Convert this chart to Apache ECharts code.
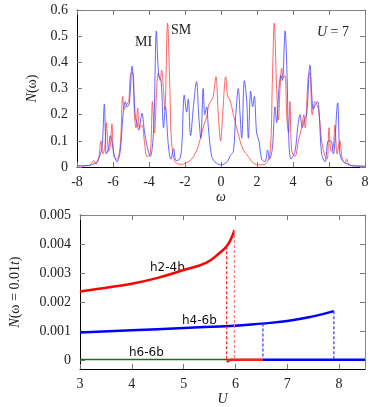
<!DOCTYPE html>
<html>
<head>
<meta charset="utf-8">
<script src="https://cdn.jsdelivr.net/npm/echarts@6/dist/echarts.min.js"></script>
<style>
    html, body { margin: 0; padding: 0; background: #fff; }
    #chart { width: 374px; height: 407px; }
</style>
</head>
<body>
<div id="chart"></div>
<script type="text/javascript">
    // top panel: density of states N(omega) at U = 7, [omega, N]
    var dosMI = [
        [-8,0.004],[-7.5,0.005],[-7.2,0.008],[-7.0,0.015],[-6.89,0.02],[-6.7,0.05],[-6.6,0.08],
        [-6.48,0.24],[-6.42,0.12],[-6.37,0.05],[-6.25,0.07],[-6.15,0.12],[-6.06,0.1],[-5.95,0.05],
        [-5.78,0.02],[-5.6,0.06],[-5.44,0.2],[-5.31,0.25],[-5.22,0.23],[-5.1,0.24],[-4.94,0.385],
        [-4.85,0.3],[-4.76,0.19],[-4.67,0.17],[-4.57,0.14],[-4.39,0.205],[-4.26,0.14],[-4.11,0.08],
        [-3.93,0.04],[-3.74,0.15],[-3.59,0.52],[-3.46,0.35],[-3.33,0.33],[-3.19,0.15],[-3.09,0.23],
        [-2.92,0.08],[-2.78,0.03],[-2.63,0.07],[-2.5,0.025],[-2.3,0.03],[-2.18,0.08],[-2.04,0.275],
        [-1.91,0.21],[-1.82,0.26],[-1.69,0.12],[-1.54,0.225],[-1.36,0.326],[-1.23,0.19],[-1.12,0.11],
        [-0.99,0.3],[-0.9,0.2],[-0.8,0.23],[-0.7,0.15],[-0.53,0.045],[-0.34,0.02],[0,0.008],
        [0.34,0.02],[0.53,0.045],[0.69,0.06],[0.81,0.19],[0.96,0.3],[1.06,0.2],[1.15,0.11],
        [1.3,0.33],[1.43,0.25],[1.52,0.11],[1.65,0.29],[1.76,0.23],[1.85,0.27],[1.98,0.13],
        [2.11,0.1],[2.26,0.03],[2.44,0.02],[2.59,0.065],[2.69,0.03],[2.85,0.07],[3.0,0.23],
        [3.09,0.17],[3.22,0.3],[3.33,0.35],[3.41,0.33],[3.56,0.52],[3.67,0.35],[3.74,0.15],
        [3.89,0.03],[4.11,0.06],[4.26,0.15],[4.39,0.2],[4.52,0.15],[4.63,0.18],[4.76,0.2],
        [4.94,0.39],[5.04,0.28],[5.13,0.22],[5.26,0.24],[5.37,0.25],[5.46,0.2],[5.59,0.05],
        [5.78,0.02],[5.96,0.1],[6.11,0.1],[6.24,0.05],[6.48,0.245],[6.61,0.05],[6.8,0.02],
        [7.0,0.012],[7.26,0.005],[8,0.003]
    ];
    var dosSM = [
        [-8,0.004],[-7.3,0.006],[-7.07,0.025],[-6.95,0.01],[-6.8,0.03],[-6.67,0.1],[-6.56,0.05],
        [-6.45,0.08],[-6.37,0.17],[-6.24,0.06],[-6.15,0.08],[-6.06,0.165],[-5.95,0.04],[-5.78,0.03],
        [-5.6,0.08],[-5.46,0.27],[-5.37,0.22],[-5.22,0.24],[-5.13,0.25],[-5.0,0.36],[-4.89,0.36],
        [-4.81,0.2],[-4.72,0.15],[-4.63,0.225],[-4.52,0.15],[-4.39,0.16],[-4.26,0.1],[-4.11,0.04],
        [-3.93,0.05],[-3.81,0.25],[-3.7,0.13],[-3.57,0.3],[-3.48,0.36],[-3.38,0.33],[-3.3,0.37],
        [-3.2,0.3],[-3.12,0.22],[-2.97,0.55],[-2.84,0.3],[-2.75,0.1],[-2.55,0.02],[-2.2,0.01],
        [-1.82,0.02],[-1.63,0.03],[-1.44,0.05],[-1.26,0.08],[-1.07,0.13],[-0.93,0.165],[-0.8,0.19],
        [-0.67,0.24],[-0.52,0.255],[-0.43,0.27],[-0.28,0.345],[-0.15,0.2],[-0.02,0.1],[0.1,0.21],
        [0.26,0.345],[0.37,0.27],[0.5,0.255],[0.69,0.2],[0.87,0.15],[1.06,0.1],[1.24,0.065],
        [1.52,0.04],[1.8,0.015],[2.2,0.008],[2.44,0.01],[2.72,0.05],[2.85,0.32],[2.96,0.55],
        [3.09,0.3],[3.19,0.18],[3.28,0.3],[3.37,0.377],[3.46,0.34],[3.56,0.35],[3.65,0.2],
        [3.75,0.13],[3.83,0.25],[3.93,0.06],[4.11,0.04],[4.3,0.1],[4.48,0.15],[4.6,0.2],
        [4.67,0.15],[4.85,0.35],[4.94,0.36],[5.07,0.2],[5.22,0.25],[5.41,0.22],[5.59,0.1],
        [5.78,0.04],[5.9,0.03],[6.0,0.15],[6.12,0.06],[6.24,0.08],[6.33,0.16],[6.45,0.05],
        [6.6,0.1],[6.74,0.03],[6.9,0.015],[6.98,0.03],[7.1,0.01],[7.3,0.005],[8,0.003]
    ];

    // bottom panel: N(omega = 0.01t) vs U
    var h24U = [3, 3.5, 4, 4.5, 5, 5.44, 5.7, 5.83, 5.92, 5.98];
    var h24N = [0.00236, 0.00249, 0.00263, 0.00283, 0.0031, 0.00336, 0.0037, 0.00392, 0.0042, 0.00448];
    var h24Low = [[5.83, -0.00007], [5.9, 0], [6.53, 0]];
    var h46U = [3, 4, 5, 6, 6.5, 7, 7.5, 7.9];
    var h46N = [0.00094, 0.00102, 0.0011, 0.00118, 0.00125, 0.00134, 0.0015, 0.00168];
    var h46Low = [[6.53, 0], [8.5, 0]];
    var h66 = [[3, 0.00001], [6.5, 0.00001]];
    var redDrops = [[5.83, 0.00392], [5.98, 0.00448]];
    var blueDrops = [[6.53, 0.00125], [7.9, 0.00168]];
    var bottomYTicks = [0, 0.001, 0.002, 0.003, 0.004, 0.005];

    function zip(xs, ys) {
        var out = [];
        for (var i = 0; i < xs.length; i++) out.push([xs[i], ys[i]]);
        return out;
    }

    var serif = 'Liberation Serif';
    var labelStyle = { fontFamily: serif, fontSize: 14, color: '#222' };
    var tickIn = { show: true, inside: true, length: 5, lineStyle: { color: '#777' } };

    function frameAxis(extra) {
        var base = {
            axisLine: { show: true, onZero: false, lineStyle: { color: '#000', width: 1 } },
            axisTick: tickIn,
            axisLabel: labelStyle,
            splitLine: { show: false }
        };
        for (var k in extra) base[k] = extra[k];
        return base;
    }
    function mirrorAxis(extra) {
        var base = {
            axisLine: { show: true, onZero: false, lineStyle: { color: '#888', width: 1 } },
            axisTick: tickIn,
            axisLabel: { show: false },
            splitLine: { show: false }
        };
        for (var k in extra) base[k] = extra[k];
        return base;
    }

    var series = [
        { type: 'line', xAxisIndex: 0, yAxisIndex: 0, data: dosSM, smooth: 0.35, symbol: 'none',
          lineStyle: { color: '#ff4a4a', width: 1, opacity: 0.85 } },
        { type: 'line', xAxisIndex: 0, yAxisIndex: 0, data: dosMI, smooth: 0.35, symbol: 'none',
          lineStyle: { color: '#4a4aff', width: 1, opacity: 0.85 } },
        { type: 'line', xAxisIndex: 2, yAxisIndex: 2, data: h66, symbol: 'none',
          lineStyle: { color: '#1f6b1f', width: 1.5 } },
        { type: 'line', xAxisIndex: 2, yAxisIndex: 2, data: zip(h24U, h24N), smooth: true, symbol: 'none',
          lineStyle: { color: '#ff0000', width: 2.5 } },
        { type: 'line', xAxisIndex: 2, yAxisIndex: 2, data: h24Low, symbol: 'none',
          lineStyle: { color: '#ff2020', width: 2.5 } },
        { type: 'line', xAxisIndex: 2, yAxisIndex: 2, data: zip(h46U, h46N), smooth: true, symbol: 'none',
          lineStyle: { color: '#0000ff', width: 2.5 } },
        { type: 'line', xAxisIndex: 2, yAxisIndex: 2, data: h46Low, symbol: 'none',
          lineStyle: { color: '#0000ff', width: 2.5 } }
    ];
    redDrops.forEach(function (d, i) {
        var c = i === 0 ? '#ff2020' : '#ff8080';
        series.push({ type: 'line', xAxisIndex: 2, yAxisIndex: 2, data: [d, [d[0], 0]], symbol: 'none',
            itemStyle: { color: c }, lineStyle: { color: c, width: 1.2, type: [3, 2] } });
    });
    blueDrops.forEach(function (d) {
        series.push({ type: 'line', xAxisIndex: 2, yAxisIndex: 2, data: [d, [d[0], 0]], symbol: 'none',
            itemStyle: { color: '#3030ff' }, lineStyle: { color: '#3030ff', width: 1.2, type: [3, 2] } });
    });

    var chart = echarts.init(document.getElementById('chart'), null, { renderer: 'canvas' });
    chart.setOption({
        animation: false,
        backgroundColor: '#fff',
        grid: [
            { left: 77, right: 9, top: 10, height: 157 },
            { left: 77, right: 9, top: 215, height: 158 }
        ],
        xAxis: [
            frameAxis({ type: 'value', gridIndex: 0, min: -8, max: 8, interval: 2, position: 'bottom',
                name: 'ω', nameLocation: 'middle', nameGap: 21,
                nameTextStyle: { fontFamily: serif, fontStyle: 'italic', fontSize: 14, color: '#222' } }),
            mirrorAxis({ type: 'value', gridIndex: 0, min: -8, max: 8, interval: 2, position: 'top' }),
            frameAxis({ type: 'value', gridIndex: 1, min: 3, max: 8.5, interval: 1, position: 'bottom',
                axisLabel: { fontFamily: serif, fontSize: 14, color: '#222', showMaxLabel: false },
                name: 'U', nameLocation: 'middle', nameGap: 20,
                nameTextStyle: { fontFamily: serif, fontStyle: 'italic', fontSize: 14, color: '#222' } }),
            mirrorAxis({ type: 'value', gridIndex: 1, min: 3, max: 8.5, interval: 1, position: 'top' })
        ],
        yAxis: [
            frameAxis({ type: 'value', gridIndex: 0, min: 0, max: 0.6, interval: 0.1, position: 'left',
                axisLabel: { fontFamily: serif, fontSize: 14, color: '#222', margin: 9,
                    formatter: function (v) { return v === 0 ? '0' : v.toFixed(1); } },
                name: '{i|N}(ω)', nameLocation: 'middle', nameGap: 38, nameRotate: 90,
                nameTextStyle: { fontFamily: serif, fontSize: 14, color: '#222',
                    rich: { i: { fontFamily: serif, fontStyle: 'italic', fontSize: 14, color: '#222' } } } }),
            mirrorAxis({ type: 'value', gridIndex: 0, min: 0, max: 0.6, interval: 0.1, position: 'right' }),
            frameAxis({ type: 'value', gridIndex: 1, min: -0.00032, max: 0.005, position: 'left',
                axisTick: { show: true, inside: true, length: 5, lineStyle: { color: '#777' }, customValues: bottomYTicks },
                axisLabel: { fontFamily: serif, fontSize: 14, color: '#222', margin: 9, customValues: bottomYTicks,
                    formatter: function (v) { return v === 0 ? '0' : v.toFixed(3); } },
                name: '{i|N}(ω = 0.01{i|t})', nameLocation: 'middle', nameGap: 58, nameRotate: 90,
                nameTextStyle: { fontFamily: serif, fontSize: 14, color: '#222',
                    rich: { i: { fontFamily: serif, fontStyle: 'italic', fontSize: 14, color: '#222' } } } }),
            mirrorAxis({ type: 'value', gridIndex: 1, min: -0.00032, max: 0.005, position: 'right',
                axisTick: { show: true, inside: true, length: 5, lineStyle: { color: '#777' }, customValues: bottomYTicks } })
        ],
        graphic: [
            { type: 'text', left: 135, top: 35, style: { text: 'MI', font: '14px "Liberation Serif"', fill: '#222' } },
            { type: 'text', left: 171, top: 23, style: { text: 'SM', font: '14px "Liberation Serif"', fill: '#222' } },
            { type: 'text', left: 317, top: 25, style: { text: '{i|U} = 7', font: '14px "Liberation Serif"', fill: '#222',
                rich: { i: { fontStyle: 'italic', fontFamily: serif, fontSize: 14 } } } },
            { type: 'text', left: 150, top: 262, style: { text: 'h2-4b', font: '12px "DejaVu Sans"', fill: '#111' } },
            { type: 'text', left: 182, top: 315, style: { text: 'h4-6b', font: '12px "DejaVu Sans"', fill: '#111' } },
            { type: 'text', left: 129, top: 347, style: { text: 'h6-6b', font: '12px "DejaVu Sans"', fill: '#111' } }
        ],
        series: series
    });
</script>
</body>
</html>
